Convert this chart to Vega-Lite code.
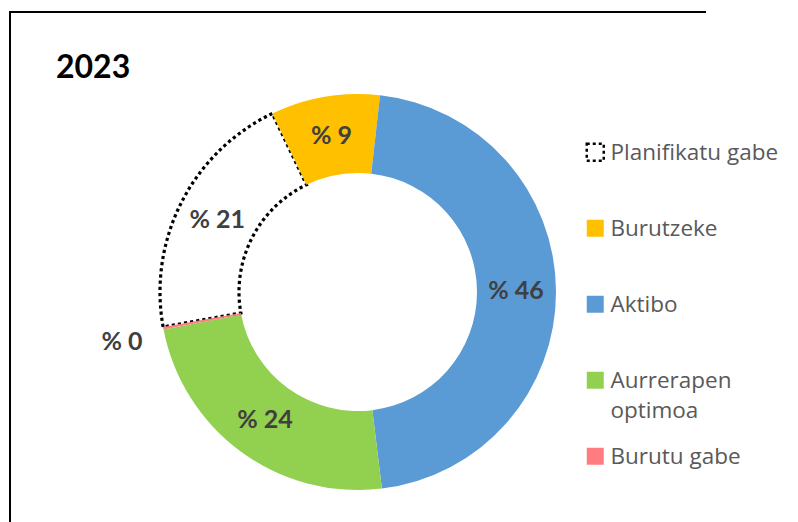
{
  "$schema": "https://vega.github.io/schema/vega-lite/v6.json",
  "width": 696,
  "height": 560,
  "autosize": {"type": "none"},
  "padding": {"left": 10, "top": 12, "right": 92, "bottom": 0},
  "background": "white",
  "view": {"stroke": "black", "strokeWidth": 2, "strokeDash": [696, 1256, 560]},
  "title": {"text": "2023", "anchor": "start", "frame": "group", "font": "Lato", "fontSize": 32, "fontWeight": "bold", "color": "black", "dx": 46, "dy": 73, "offset": 0, "baseline": "top"},
  "config": {
    "view": {"stroke": "black", "strokeWidth": 2, "strokeDash": [696, 1256, 560]},
    "style": {"view": {"stroke": "black", "strokeWidth": 2, "strokeDash": [696, 1256, 560]}},
    "legend": {"orient": "none", "legendX": 574, "legendY": 129, "title": null, "symbolType": "square", "symbolSize": 289, "symbolStrokeWidth": 2.5, "symbolDash": [3, 3], "labelFont": "Open Sans", "labelFontSize": 22.5, "labelColor": "#595959", "labelOffset": 4, "rowPadding": 19, "gridAlign": "all", "labelBaseline": "alphabetic", "labelLimit": 300}
  },
  "data": {"values": [
    {"cat": "Planifikatu gabe", "value": 20.7, "idx": 1, "label": "% 21"},
    {"cat": "Burutzeke", "value": 8.9, "idx": 2, "label": "% 9"},
    {"cat": "Aktibo", "value": 46.3, "idx": 3, "label": "% 46"},
    {"cat": "Aurrerapen optimoa", "value": 23.9, "idx": 4, "label": "% 24"},
    {"cat": "Burutu gabe", "value": 0.2, "idx": 5, "label": "% 0"}
  ]},
  "transform": [
    {"stack": "value", "groupby": [], "sort": [{"field": "idx", "order": "ascending"}], "as": ["v0", "v1"]},
    {"calculate": "(datum.v0 + datum.v1) / 2", "as": "mid"}
  ],
  "layer": [
    {
      "mark": {"type": "arc", "outerRadius": 198, "innerRadius": 119, "strokeWidth": 3.2, "strokeCap": "butt", "strokeDash": [3.2, 3]},
      "encoding": {
        "theta": {"field": "v0", "type": "quantitative", "scale": {"domain": [0, 100], "range": [4.535, 10.818]}},
        "theta2": {"field": "v1"},
        "order": {"field": "idx", "type": "quantitative"},
        "fill": {"field": "cat", "type": "nominal", "sort": null, "scale": {"domain": ["Planifikatu gabe", "Burutzeke", "Aktibo", "Aurrerapen optimoa", "Burutu gabe"], "range": ["white", "#FFC000", "#5B9BD5", "#92D050", "#FF7C80"]},
          "legend": {"labelExpr": "datum.label == 'Aurrerapen optimoa' ? ['Aurrerapen', 'optimoa'] : datum.label", "encode": {"labels": {"update": {"dy": {"value": 8}, "lineHeight": {"value": 30}}}}}},
        "stroke": {"field": "cat", "type": "nominal", "sort": null, "scale": {"domain": ["Planifikatu gabe", "Burutzeke", "Aktibo", "Aurrerapen optimoa", "Burutu gabe"], "range": ["black", "transparent", "transparent", "transparent", "transparent"]}}
      }
    },
    {
      "transform": [{"filter": "datum.cat != 'Burutu gabe'"}],
      "mark": {"type": "text", "radius": 158, "font": "Lato", "fontSize": 25, "fontWeight": "bold", "color": "#404040", "align": "center", "baseline": "middle"},
      "encoding": {
        "theta": {"field": "mid", "type": "quantitative"},
        "text": {"field": "label"}
      }
    },
    {
      "transform": [{"filter": "datum.cat == 'Burutu gabe'"}],
      "mark": {"type": "text", "radius": 240, "dy": 6, "font": "Lato", "fontSize": 25, "fontWeight": "bold", "color": "#404040", "align": "center", "baseline": "middle"},
      "encoding": {
        "theta": {"field": "mid", "type": "quantitative"},
        "text": {"field": "label"}
      }
    }
  ]
}
